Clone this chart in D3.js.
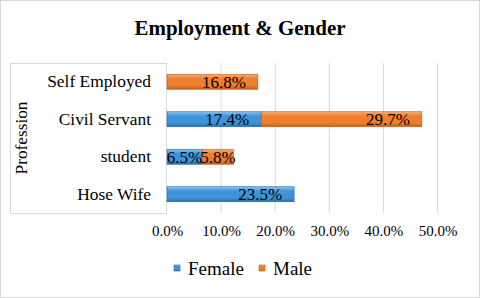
<!DOCTYPE html>
<html>
<head>
<meta charset="utf-8">
<script src="https://cdn.jsdelivr.net/npm/d3@7/dist/d3.min.js"></script>
<style>
  body { margin: 0; background: #fff; }
</style>
</head>
<body>
<div id="chart"></div>
<script>
const categories = ["Self Employed", "Civil Servant", "student", "Hose Wife"];
const series = ["Female", "Male"];
const female = [0, 17.4, 6.5, 23.5];
const male = [16.8, 29.7, 5.8, 0];
const ticks = [0, 10, 20, 30, 40, 50];

const w = 480, h = 298;
const serif = "'Liberation Serif', 'Times New Roman', serif";
const colors = { Female: ["#86c4f0", "#3f93d8", "#2a6aa6"], Male: ["#f7ad72", "#ee7f31", "#bf5d1b"] };

const svg = d3.select("#chart").append("svg")
  .attr("width", w).attr("height", h)
  .style("font-family", serif);

// outer frame
svg.append("rect")
  .attr("x", 0.5).attr("y", 0.5).attr("width", w - 1).attr("height", h - 1)
  .attr("fill", "#fff").attr("stroke", "#d9d9d9");

const defs = svg.append("defs");
series.forEach(s => {
  const g = defs.append("linearGradient").attr("id", `grad_${s}`)
    .attr("x1", 0).attr("y1", 0).attr("x2", 0).attr("y2", 1);
  g.append("stop").attr("offset", "0%").attr("stop-color", colors[s][0]);
  g.append("stop").attr("offset", "30%").attr("stop-color", colors[s][1]);
  g.append("stop").attr("offset", "75%").attr("stop-color", colors[s][1]);
  g.append("stop").attr("offset", "100%").attr("stop-color", colors[s][2]);
});

const plot = { left: 167, right: 437.5, top: 63, bottom: 213 };
const x = d3.scaleLinear().domain([0, 50]).range([plot.left, plot.right]);
const y = d3.scaleBand().domain(categories).range([plot.top, plot.bottom]).paddingInner(0.6).paddingOuter(0.3);

// title
svg.append("text")
  .attr("x", 240).attr("y", 35)
  .attr("text-anchor", "middle")
  .style("font-family", serif)
  .attr("font-size", "21px").attr("font-weight", "bold")
  .text("Employment & Gender");

// gridlines
svg.append("g").selectAll("line")
  .data(ticks.slice(1))
  .join("line")
  .attr("x1", d => x(d)).attr("x2", d => x(d))
  .attr("y1", plot.top).attr("y2", plot.bottom)
  .attr("stroke", "#d9d9d9");

// category box
svg.append("rect")
  .attr("x", 10.5).attr("y", plot.top + 0.5)
  .attr("width", plot.left - 11).attr("height", plot.bottom - plot.top)
  .attr("fill", "none").attr("stroke", "#d9d9d9");

// y axis labels
const yAxis = svg.append("g")
  .attr("transform", `translate(${plot.left - 1},0)`)
  .call(d3.axisLeft(y).tickSize(0).tickPadding(15));
yAxis.attr("font-family", null).attr("font-size", null);
yAxis.select(".domain").remove();
yAxis.selectAll("text")
  .style("font-family", serif).style("font-size", "17.4px").attr("fill", "#000");

svg.append("text")
  .attr("transform", `translate(27,${(plot.top + plot.bottom) / 2}) rotate(-90)`)
  .attr("text-anchor", "middle")
  .style("font-family", serif)
  .style("font-size", "17.3px")
  .text("Profession");

// x axis labels
const xAxis = svg.append("g")
  .attr("transform", `translate(0,${plot.bottom + 6})`)
  .call(d3.axisBottom(x).tickValues(ticks).tickSize(0).tickPadding(6).tickFormat(d => d3.format(".1f")(d) + "%"));
xAxis.attr("font-family", null).attr("font-size", null);
xAxis.select(".domain").remove();
xAxis.selectAll("text")
  .style("font-family", serif).style("font-size", "15px").attr("fill", "#000");

// stacked bars
const rows = categories.map((c, i) => ({ cat: c, Female: female[i], Male: male[i] }));
const stacked = d3.stack().keys(series)(rows);

stacked.forEach(layer => {
  const s = layer.key;
  const g = svg.append("g");
  layer.forEach(d => {
    const v = d[1] - d[0];
    if (v <= 0) return;
    const x0 = x(d[0]), x1 = x(d[1]);
    const by = y(d.data.cat), bh = y.bandwidth();
    g.append("rect")
      .attr("x", x0).attr("y", by).attr("width", x1 - x0).attr("height", bh)
      .attr("fill", `url(#grad_${s})`)
      .attr("stroke", colors[s][2]).attr("stroke-width", 0.6);
    const label = d3.format(".1f")(v) + "%";
    const txt = g.append("text")
      .attr("y", by + bh / 2).attr("dy", "0.36em")
      .style("font-family", serif)
      .style("font-size", "17px").attr("fill", "#000")
      .text(label);
    const tw = txt.node().getComputedTextLength();
    if (x1 - x0 > tw + 24) {
      txt.attr("x", x1 - 12).attr("text-anchor", "end");
    } else {
      txt.attr("x", (x0 + x1) / 2).attr("text-anchor", "middle");
    }
  });
});

// legend
const legend = svg.append("g").attr("transform", "translate(174,265)");
const lx = [0, 85];
series.forEach((s, i) => {
  const item = legend.append("g").attr("transform", `translate(${lx[i]},0)`);
  item.append("rect").attr("x", 0).attr("y", 0).attr("width", 6).attr("height", 6)
    .attr("fill", `url(#grad_${s})`).attr("stroke", colors[s][2]).attr("stroke-width", 0.6);
  item.append("text").attr("x", 14).attr("y", 3.5).attr("dy", "0.36em")
    .style("font-family", serif)
    .style("font-size", "19px").text(s);
});
</script>
</body>
</html>
